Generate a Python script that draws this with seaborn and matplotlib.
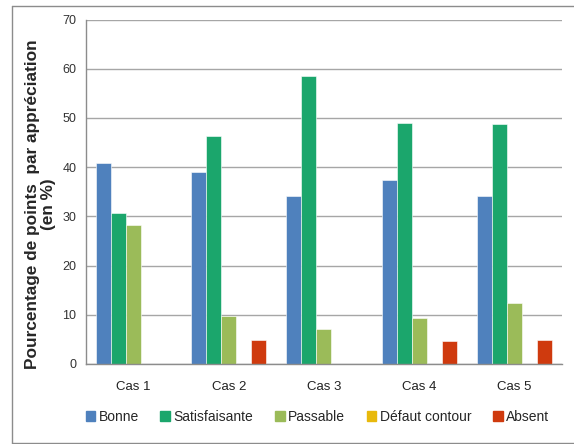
import numpy as np
import pandas as pd
import matplotlib
matplotlib.use("Agg")
import matplotlib.pyplot as plt
import seaborn as sns
from matplotlib.lines import Line2D

# --------------------  DONNÉES  --------------------
cas = ["Cas 1", "Cas 2", "Cas 3", "Cas 4", "Cas 5"]
appreciations = ["Bonne", "Satisfaisante", "Passable", "Défaut contour", "Absent"]
bonne = [40.9, 39.0, 34.1, 37.3, 34.1]
satisfaisante = [30.6, 46.4, 58.5, 48.9, 48.7]
passable = [28.2, 9.8, 7.2, 9.4, 12.3]
defaut_contour = [0, 0, 0, 0, 0]
absent = [0, 4.9, 0, 4.7, 4.9]
couleurs = ["#4F81BD", "#1BA66C", "#9BBB59", "#E8B90C", "#CF3A0E"]

series = [bonne, satisfaisante, passable, defaut_contour, absent]
df = pd.DataFrame({
    "Cas": np.repeat([cas], len(appreciations), axis=0).ravel(),
    "Appréciation": np.repeat(appreciations, len(cas)),
    "Pourcentage": np.concatenate(series),
})

# --------------------  GRAPHIQUE  --------------------
sns.set_style("white")
plt.rcParams["font.family"] = ["Liberation Sans", "DejaVu Sans"]

fig = plt.figure(figsize=(5.74, 4.44), dpi=100)
ax = fig.add_axes([0.1498, 0.1802, 0.8292, 0.7758])

sns.barplot(data=df, x="Cas", y="Pourcentage", hue="Appréciation",
            hue_order=appreciations, palette=couleurs, width=0.79,
            saturation=1, edgecolor="white", linewidth=0.4,
            ax=ax, legend=False)

ax.set_ylim(0, 70)
ax.set_yticks(range(0, 71, 10))
ax.grid(axis="y", color="#A6A6A6", linewidth=1)
ax.set_axisbelow(True)
for s in ["top", "right"]:
    ax.spines[s].set_visible(False)
for s in ["left", "bottom"]:
    ax.spines[s].set_color("#8C8C8C")
    ax.spines[s].set_linewidth(1)
ax.tick_params(axis="y", length=4, color="#8C8C8C", labelsize=9, labelcolor="#333333", pad=3)
ax.tick_params(axis="x", length=0, labelsize=9.5, labelcolor="#222222", pad=12)
ax.set_xlabel("")
ax.set_ylabel("Pourcentage de points  par appréciation\n(en %)",
              fontsize=12.4, fontweight="bold", linespacing=1.1)
ax.yaxis.set_label_coords(-0.062, 0.465)

handles = [plt.Rectangle((0, 0), 1, 1, color=c) for c in couleurs]
fig.legend(handles, appreciations, loc="center", bbox_to_anchor=(0.553, 0.061),
           ncol=5, frameon=False, fontsize=10, handlelength=0.7, handleheight=0.7,
           handletextpad=0.25, columnspacing=1.55)

# cadre extérieur gris
for xs, ys in [([0.021, 0.021], [0.003, 0.986]),
               ([0.021, 1.0], [0.986, 0.986]),
               ([0.021, 1.0], [0.003, 0.003])]:
    fig.add_artist(Line2D(xs, ys, color="#8C8C8C", linewidth=1, transform=fig.transFigure))

fig.savefig("out.png", dpi=100)
